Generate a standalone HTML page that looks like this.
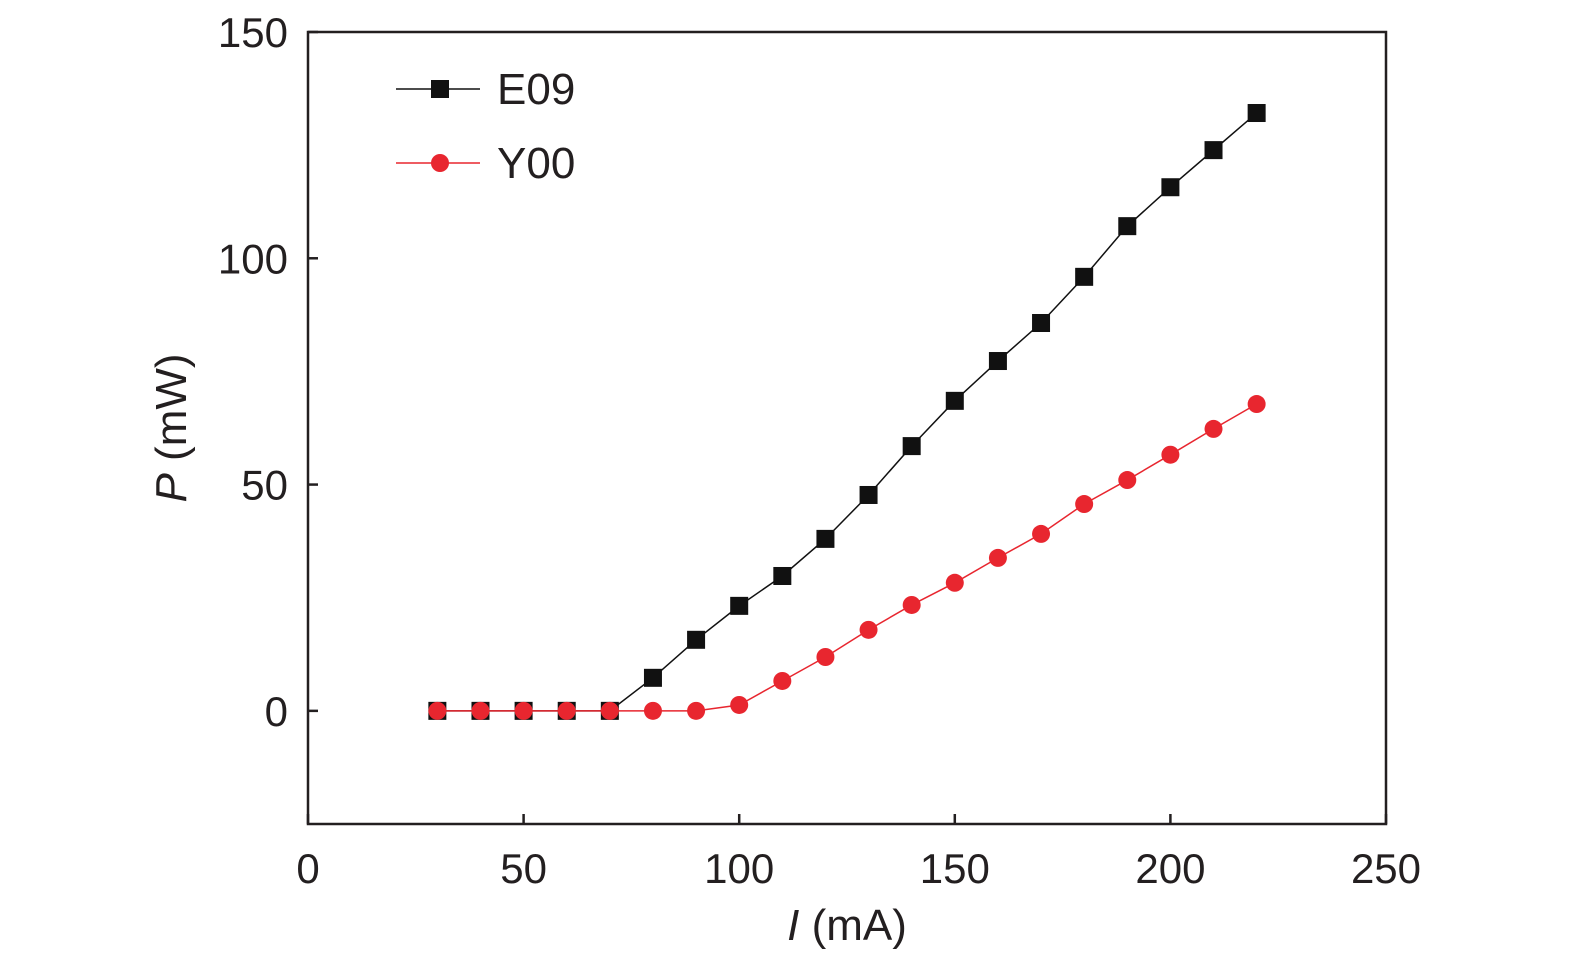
<!DOCTYPE html>
<html><head><meta charset="utf-8"><style>
html,body{margin:0;padding:0;background:#fff}
svg{display:block}
text{font-family:"Liberation Sans",sans-serif;fill:#231f20}
</style></head><body>
<svg id="chart" width="1575" height="963" viewBox="0 0 1575 963" xmlns="http://www.w3.org/2000/svg"></svg>
<script>
const currents = [30,40,50,60,70,80,90,100,110,120,130,140,150,160,170,180,190,200,210,220];
const e09Values = [0,0,0,0,0,7.3,15.7,23.2,29.8,38,47.7,58.5,68.5,77.3,85.7,95.9,107.1,115.7,123.9,132.1];
const y00Values = [0,0,0,0,0,0,0,1.3,6.6,11.9,17.9,23.4,28.3,33.8,39.1,45.7,51,56.6,62.3,67.8];
const xTicks = [0,50,100,150,200,250];
const yTicks = [0,50,100,150];

const NS='http://www.w3.org/2000/svg';
const svg=document.getElementById('chart');
const L=308,R=1386,T=32,B=824,xmin=0,xmax=250,ymin=-25,ymax=150;
const sx=v=>L+(v-xmin)/(xmax-xmin)*(R-L);
const sy=v=>B-(v-ymin)/(ymax-ymin)*(B-T);
function mk(tag,attrs,parent){const e=document.createElementNS(NS,tag);for(const k in attrs)e.setAttribute(k,attrs[k]);(parent||svg).appendChild(e);return e;}

const frame=mk('rect',{x:L,y:T,width:R-L,height:B-T,fill:'none',stroke:'#231f20','stroke-width':2.5});



xTicks.forEach(v=>{
  const t=mk('line',{x1:sx(v),x2:sx(v),y1:B,y2:B-10,stroke:'#231f20','stroke-width':2.5});
  
  
  const lb=mk('text',{x:sx(v),y:883,'font-size':42,'text-anchor':'middle'});
  lb.textContent=v;
  
  
});
yTicks.forEach(v=>{
  const t=mk('line',{x1:L,x2:L+10,y1:sy(v),y2:sy(v),stroke:'#231f20','stroke-width':2.5});
  
  
  const lb=mk('text',{x:288,y:sy(v)+15,'font-size':42,'text-anchor':'end'});
  lb.textContent=v;
  
  
});

const xt=mk('text',{x:847,y:940,'font-size':44,'text-anchor':'middle'});
xt.innerHTML='<tspan font-style="italic">I</tspan> (mA)';


const yt=mk('text',{x:0,y:0,'font-size':44,'text-anchor':'middle',transform:'translate(186,428) rotate(-90)'});
yt.innerHTML='<tspan font-style="italic">P</tspan> (mW)';



function series(vals,color,shape,name){
  const g=mk('g',{});
  
  
  const pl=mk('polyline',{points:currents.map((c,i)=>sx(c)+','+sy(vals[i])).join(' '),fill:'none',stroke:color,'stroke-width':1.5},g);
  
  
  currents.forEach((c,i)=>{
    let m;
    if(shape==='sq') m=mk('rect',{x:sx(c)-9,y:sy(vals[i])-9,width:18,height:18,fill:color},g);
    else m=mk('circle',{cx:sx(c),cy:sy(vals[i]),r:9,fill:color},g);
    
    
  });
}
series(e09Values,'#111','sq','e09');
series(y00Values,'#e8262f','ci','y00');

function legend(y,color,shape,label,name){
  const g=mk('g',{});
  
  
  mk('line',{x1:396,x2:480,y1:y,y2:y,stroke:color,'stroke-width':1.5},g);
  if(shape==='sq') mk('rect',{x:431,y:y-9,width:18,height:18,fill:color},g);
  else mk('circle',{cx:440,cy:y,r:9,fill:color},g);
  const t=mk('text',{x:497,y:y+15,'font-size':44},g);
  t.textContent=label;
}
legend(89,'#111','sq','E09','e09');
legend(163,'#e8262f','ci','Y00','y00');
</script>
</body></html>
